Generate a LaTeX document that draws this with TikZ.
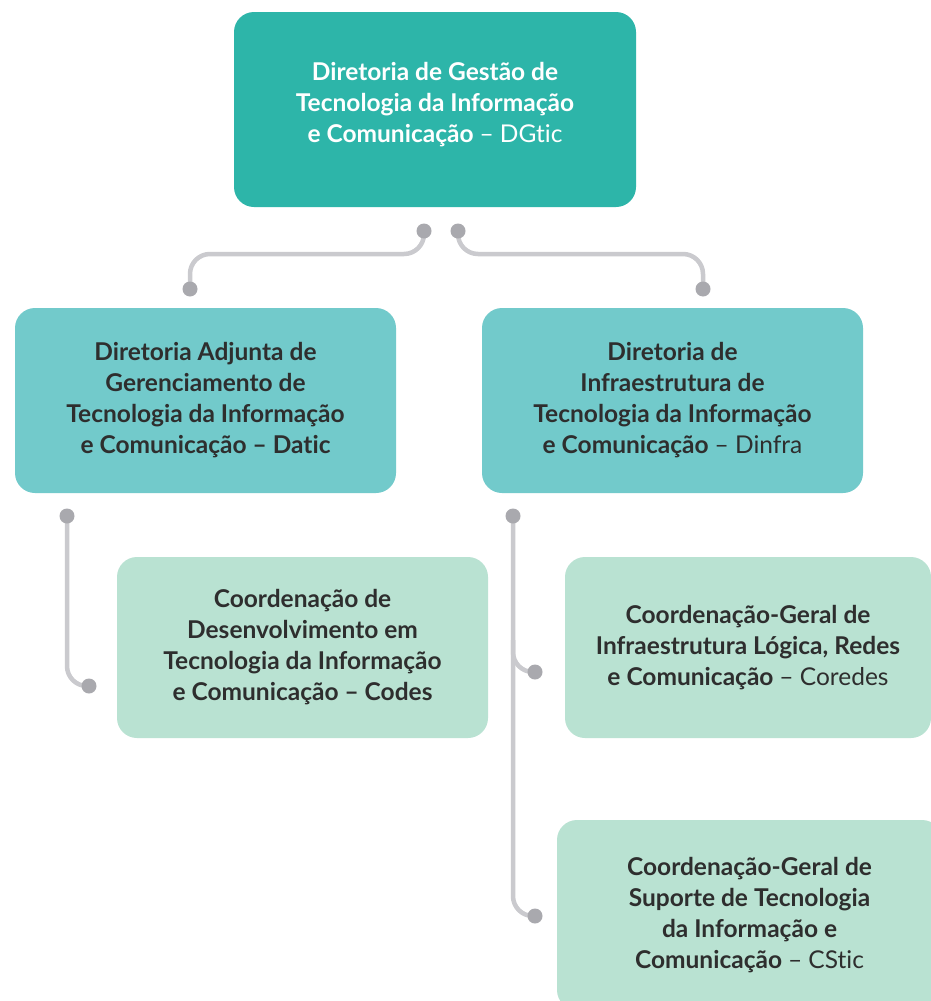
\documentclass[tikz,border=0pt]{standalone}
\usepackage{fontspec}
\setmainfont{Lato}[Ligatures=NoCommon]
\definecolor{cdark}{HTML}{2DB5A9}
\definecolor{cmid}{HTML}{72CACB}
\definecolor{clight}{HTML}{B9E2D2}
\definecolor{ctxt}{HTML}{2E2E2E}
\definecolor{cline}{HTML}{CACACE}
\definecolor{cdot}{HTML}{A9A9AE}
\begin{document}
\begin{tikzpicture}[x=1pt,y=-1pt,
  box/.style={rounded corners=20pt, inner sep=0pt, align=center,
    font=\fontsize{24.5}{31}\selectfont\bfseries, text=ctxt},
  dotn/.style={circle, fill=cdot, inner sep=0pt, minimum size=15pt},
  link/.style={draw=cline, line width=4.5pt, rounded corners=20pt}]
\clip (0,0) rectangle (931,1001);
\fill[white] (0,0) rectangle (931,1001);

% boxes
\node[box, fill=cdark, text=white, minimum width=402pt, minimum height=195pt] (top) at (435,109.5) {};
\node[box, text=white, inner sep=0pt] (toptxt) at (435,105)
  {Diretoria de Gestão de\\Tecnologia da Informação\\e Comunicação \mdseries– DGtic};
\node[box, fill=cmid, minimum width=381pt, minimum height=185pt] (datic) at (205.5,400.5)
  {Diretoria Adjunta de\\Gerenciamento de\\Tecnologia da Informação\\e Comunicação – Datic};
\node[box, fill=cmid, minimum width=381pt, minimum height=185pt] (dinfra) at (672.5,400.5)
  {Diretoria de\\Infraestrutura de\\Tecnologia da Informação\\e Comunicação \mdseries– Dinfra};
\node[box, fill=clight, minimum width=371pt, minimum height=181pt] (codes) at (302.5,647.5)
  {Coordenação de\\Desenvolvimento em\\Tecnologia da Informação\\e Comunicação – Codes};
\node[box, fill=clight, minimum width=366pt, minimum height=181pt] (coredes) at (748,647.5)
  {Coordenação-Geral de\\Infraestrutura Lógica, Redes\\e Comunicação \mdseries– Coredes};
\node[box, fill=clight, minimum width=385pt, minimum height=190pt] (cstic) at (749.5,915)
  {Coordenação-Geral de\\Suporte de Tecnologia\\da Informação e\\Comunicação \mdseries– CStic};

% connector points
\coordinate (tl) at (424,231);
\coordinate (tr) at (458,231);
\coordinate (hl) at (190,254);
\coordinate (hr) at (703,254);
\coordinate (ml) at (190,289);
\coordinate (mr) at (703,289);
\coordinate (vl) at (67,516);
\coordinate (cl) at (89,686);
\coordinate (vr) at (513,516);
\coordinate (br) at (513,640);
\coordinate (cr1) at (535,672);
\coordinate (cr2) at (535,916);

\draw[link] (tl) |- (hl) -- (ml);
\draw[link] (tr) |- (hr) -- (mr);
\draw[link] (vl) |- (cl);
\draw[link] (vr) |- (cr2);
\draw[link] (br) |- (cr1);

\foreach \p in {tl,tr,ml,mr,vl,cl,vr,cr1,cr2}
  \node[dotn] (dot-\p) at (\p) {};
\end{tikzpicture}
\end{document}
